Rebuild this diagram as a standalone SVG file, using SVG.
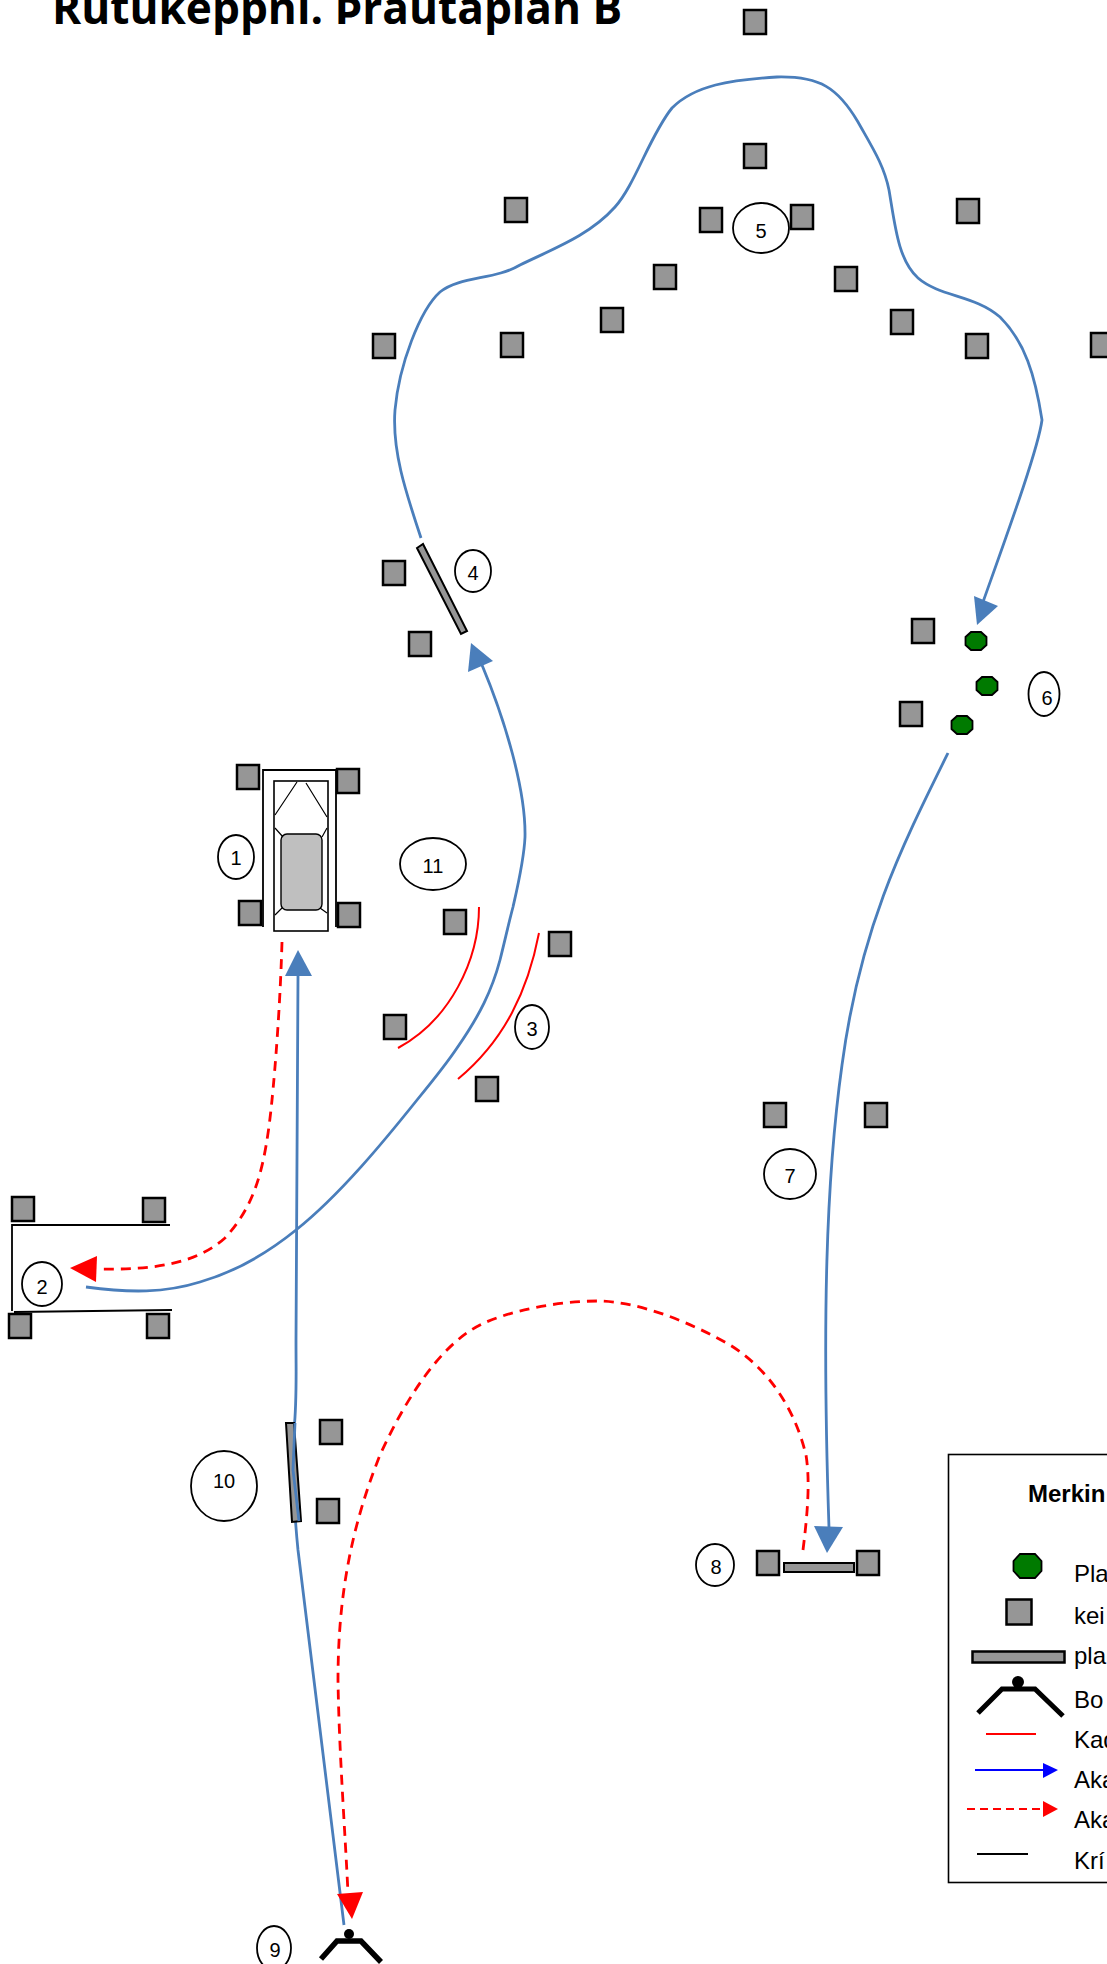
<svg xmlns="http://www.w3.org/2000/svg" width="1107" height="1964" viewBox="0 0 1107 1964">
<style>
text{font-family:"Liberation Sans",Arial,sans-serif;fill:#000}
.n{font-size:20px;text-anchor:middle}
.l{font-size:24px}
.c{fill:#fff;stroke:#000;stroke-width:1.8}
.s{fill:#969696;stroke:#000;stroke-width:2.5}
.g{fill:#007a00;stroke:#000;stroke-width:1.8}
.k{fill:none;stroke:#000;stroke-width:1.8}
.b{fill:none;stroke:#4a7ebb;stroke-width:2.8}
.r{fill:none;stroke:#f00;stroke-width:2}
.d{fill:none;stroke:#f00;stroke-width:2.8;stroke-dasharray:10 7}
.ba{fill:#4a7ebb}
.ra{fill:#f00}
</style>
<defs>
<rect id="sq" class="s" x="-11" y="-12" width="22" height="24"/>
<polygon id="oc" class="g" points="-5,-9 5,-9 10.5,-4 10.5,4 5,9 -5,9 -10.5,4 -10.5,-4"/>
</defs>
<rect width="1107" height="1964" fill="#fff"/>
<text id="title" x="52" y="24" style="font-family:'Open Sans',sans-serif;font-weight:700;font-size:44.200px;fill:#000">Rutukeppni. Þrautaplan B</text>

<g id="connectors">
<path class="b" d="M421,538C405,490 392,450 395,410C399,365 420,310 440,292C460,276 495,280 520,265C555,248 590,235 615,207C635,185 650,135 672,108C695,85 730,80 777,77C820,76 838,88 858,122C872,147 884,165 889,190C895,225 898,260 918,278C940,297 975,295 1000,317C1025,342 1035,375 1042,420C1038,450 1005,540 983,602"/>
<polygon class="ba" points="974,596 998,606 977,625"/>
<path class="b" d="M948,753C900,850 860,930 842,1065C826,1180 822,1320 829,1528"/>
<polygon class="ba" points="814,1526 843,1527 827,1553"/>
<path class="b" d="M86,1287C130,1293 165,1293 200,1282C235,1272 265,1255 296,1230C340,1195 385,1140 417,1100C435,1078 447,1063 457,1048C480,1015 492,990 500,960C505,940 509,922 513,907C518,885 524,860 525,837C526,790 505,720 482,665"/>
<polygon class="ba" points="471,643 493,661 468,672"/>
<path class="b" d="M344,1925L298,1550C294,1510 292,1470 294,1430C297,1400 296,1380 296,1340L298,976"/>
<polygon class="ba" points="298,950 285,976 312,976"/>
<path class="d" d="M282,942C280,1010 275,1070 272,1100C265,1170 255,1205 225,1238C195,1265 150,1270 98,1269"/>
<polygon class="ra" points="70,1268 97,1256 96,1282"/>
<path class="d" d="M803,1550C808,1510 810,1480 806,1455C795,1410 770,1370 730,1345C690,1322 640,1302 599,1301C560,1301 510,1310 480,1325C440,1345 405,1400 380,1455C350,1530 338,1600 338,1680C339,1750 345,1830 348,1893"/>
<polygon class="ra" points="337,1894 363,1892 352,1919"/>
</g>

<g id="arcs">
<path class="r" d="M479,907C479,960 450,1020 398,1048"/>
<path class="r" d="M539,933C528,990 505,1040 458,1079"/>
</g>

<g id="car">
<path class="k" d="M263,927L263,770L337,770M336,770L336,927"/>
<rect class="k" x="274" y="781" width="54" height="150" style="stroke-width:1.6"/>
<rect x="281" y="834" width="41" height="76" rx="6" fill="#bfbfbf" stroke="#000" stroke-width="1.4"/>
<path class="k" style="stroke-width:1.2" d="M297,782L275,815M306,783L327,817M275,828L283,837M327,828L322,837M275,915L282,908M327,913L320,908"/>
</g>
<g id="cones">
<use href="#sq" x="755" y="22"/>
<use href="#sq" x="755" y="156"/>
<use href="#sq" x="516" y="210"/>
<use href="#sq" x="711" y="220"/>
<use href="#sq" x="802" y="217"/>
<use href="#sq" x="968" y="211"/>
<use href="#sq" x="665" y="277"/>
<use href="#sq" x="846" y="279"/>
<use href="#sq" x="612" y="320"/>
<use href="#sq" x="902" y="322"/>
<use href="#sq" x="384" y="346"/>
<use href="#sq" x="512" y="345"/>
<use href="#sq" x="977" y="346"/>
<use href="#sq" x="1102" y="345"/>
<use href="#sq" x="394" y="573"/>
<use href="#sq" x="420" y="644"/>
<use href="#sq" x="923" y="631"/>
<use href="#sq" x="911" y="714"/>
<use href="#sq" x="248" y="777"/>
<use href="#sq" x="348" y="781"/>
<use href="#sq" x="250" y="913"/>
<use href="#sq" x="349" y="915"/>
<use href="#sq" x="455" y="922"/>
<use href="#sq" x="560" y="944"/>
<use href="#sq" x="395" y="1027"/>
<use href="#sq" x="487" y="1089"/>
<use href="#sq" x="775" y="1115"/>
<use href="#sq" x="876" y="1115"/>
<use href="#sq" x="23" y="1209"/>
<use href="#sq" x="154" y="1210"/>
<use href="#sq" x="20" y="1326"/>
<use href="#sq" x="158" y="1326"/>
<use href="#sq" x="331" y="1432"/>
<use href="#sq" x="328" y="1511"/>
<use href="#sq" x="768" y="1563"/>
<use href="#sq" x="868" y="1563"/>
</g>
<g id="plates">
<use href="#oc" x="976" y="641"/>
<use href="#oc" x="987" y="686"/>
<use href="#oc" x="962" y="725"/>
</g>
<g id="gates">
<polygon class="s" points="417,548 423,544 467,631 461,634" style="stroke-width:2"/>
<rect class="s" x="784" y="1563" width="70" height="9" style="stroke-width:2"/>
<polygon class="s" points="286,1423 294,1423 301,1521 292,1522" style="stroke-width:2"/>
<path class="b" d="M295,1423L293,1470L299,1521"/>
</g>
<g id="room2">
<path class="k" d="M170,1225L12,1225L12,1311M14,1312L172,1310"/>
</g>
<g id="bot">
<circle cx="349" cy="1934" r="5"/>
<path d="M321,1959L337,1941L361,1941L381,1962" fill="none" stroke="#000" stroke-width="5.5"/>
</g>
<g id="n1"><ellipse class="c" cx="236" cy="857" rx="18" ry="22"/><text class="n" x="236" y="865">1</text></g>
<g id="n2"><ellipse class="c" cx="42" cy="1284" rx="20" ry="22"/><text class="n" x="42" y="1294">2</text></g>
<g id="n3"><ellipse class="c" cx="532" cy="1027" rx="17" ry="22"/><text class="n" x="532" y="1036">3</text></g>
<g id="n4"><ellipse class="c" cx="473" cy="571" rx="18" ry="21"/><text class="n" x="473" y="580">4</text></g>
<g id="n5"><ellipse class="c" cx="761" cy="228" rx="28" ry="25"/><text class="n" x="761" y="238">5</text></g>
<g id="n6"><ellipse class="c" cx="1044" cy="694" rx="15.5" ry="22"/><text class="n" x="1047" y="705">6</text></g>
<g id="n7"><ellipse class="c" cx="790" cy="1174" rx="26" ry="25"/><text class="n" x="790" y="1183">7</text></g>
<g id="n8"><ellipse class="c" cx="715" cy="1565" rx="19" ry="21"/><text class="n" x="716" y="1574">8</text></g>
<g id="n9"><ellipse class="c" cx="274" cy="1948" rx="17" ry="22"/><text class="n" x="275" y="1957">9</text></g>
<g id="n10"><ellipse class="c" cx="224" cy="1486" rx="33" ry="35"/><text class="n" x="224" y="1488">10</text></g>
<g id="n11"><ellipse class="c" cx="433" cy="864" rx="33" ry="26"/><text class="n" x="433" y="873">11</text></g>

<g id="legend">
<rect x="948.500" y="1454.500" width="170" height="428" fill="none" stroke="#000" stroke-width="1.6"/>
<text class="l" x="1028" y="1502" style="font-weight:700">Merkin</text>
<polygon class="g" points="1020,1554 1035,1554 1041.500,1561 1041.500,1571 1035,1578 1020,1578 1013.500,1571 1013.500,1561"/>
<rect class="s" x="1006.500" y="1599.500" width="25" height="25"/>
<rect class="s" x="972.500" y="1651.500" width="92" height="11"/>
<circle cx="1018" cy="1682" r="6"/>
<path d="M978,1713L1002,1689L1035,1689L1063,1716" fill="none" stroke="#000" stroke-width="5"/>
<path d="M986,1734H1036" class="r"/>
<path d="M975,1770H1044" fill="none" stroke="#00f" stroke-width="2"/>
<polygon points="1043,1763 1058,1770 1043,1778" fill="#00f"/>
<path d="M967,1809H1044" class="d" style="stroke-width:2;stroke-dasharray:8 5"/>
<polygon class="ra" points="1043,1801 1058,1809 1043,1817"/>
<path d="M977,1854H1028" class="k"/>
<text class="l" x="1074" y="1582">Pla</text>
<text class="l" x="1074" y="1624">kei</text>
<text class="l" x="1074" y="1664">pla</text>
<text class="l" x="1074" y="1708">Bo</text>
<text class="l" x="1074" y="1748">Kad</text>
<text class="l" x="1074" y="1788">Aka</text>
<text class="l" x="1074" y="1828">Aka</text>
<text class="l" x="1074" y="1869">Krí</text>
</g>
</svg>
